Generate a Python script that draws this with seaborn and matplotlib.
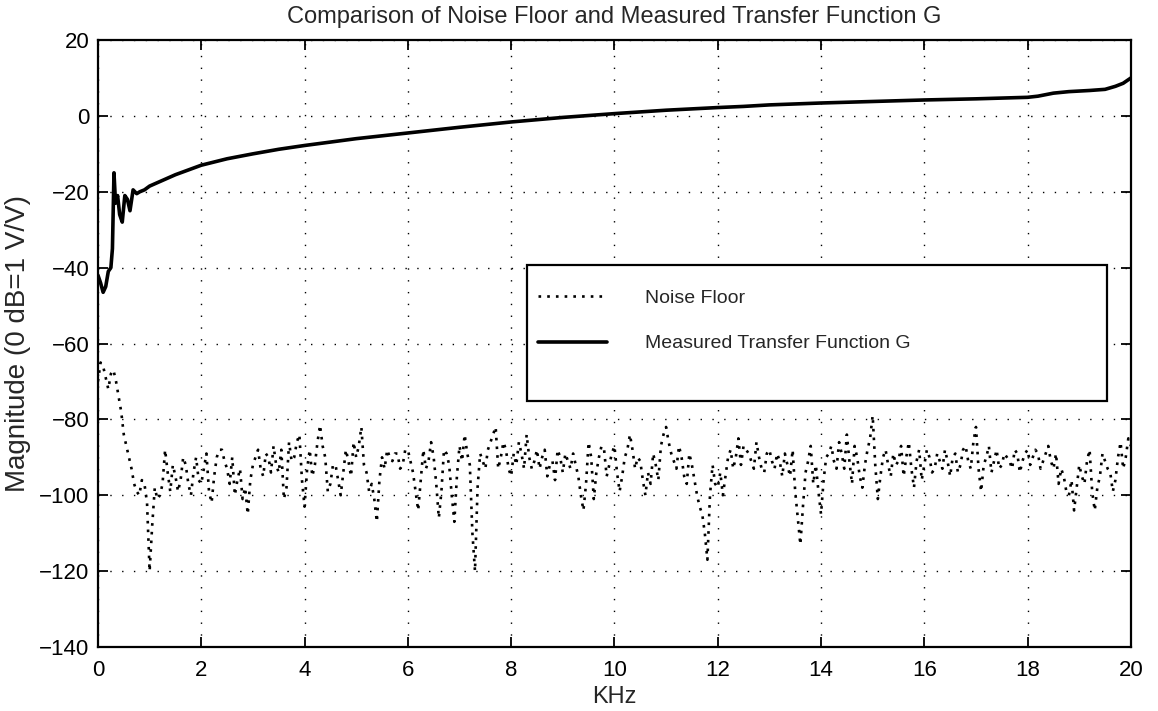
import numpy as np
import pandas as pd
import matplotlib
matplotlib.use("Agg")
import matplotlib.pyplot as plt
import seaborn as sns
from matplotlib.patches import Rectangle
from matplotlib.lines import Line2D

# ---------------- data ----------------
title = "Comparison of Noise Floor and Measured Transfer Function G"
x_label = "KHz"
y_label = "Magnitude (0 dB=1 V/V)"
noise_label = "Noise Floor"
tf_label = "Measured Transfer Function G"

x_ticks = [0, 2, 4, 6, 8, 10, 12, 14, 16, 18, 20]
y_ticks = [-140, -120, -100, -80, -60, -40, -20, 0, 20]

# noise floor, read every 0.1 kHz from 0 to 20 kHz (dB)
noise_step_khz = 0.1
noise_db = [
    -70, -66, -72, -67, -74, -84, -90, -97, -100, -97,       # 0.0 - 0.9
    -120, -98, -100, -88, -99, -95, -96, -92, -100, -90,     # 1.0 - 1.9
    -97, -89, -102, -90, -88, -93, -90, -96, -101, -105,     # 2.0 - 2.9
    -92, -88, -95, -90, -87, -94, -101, -86, -90, -84,       # 3.0 - 3.9
    -103, -88, -92, -81.5, -90, -97, -92, -100, -88, -95,    # 4.0 - 4.9
    -90, -82, -94, -97, -107, -90, -88, -91, -89, -92,       # 5.0 - 5.9
    -88, -94, -104, -88, -91, -90, -106, -88, -92, -107,     # 6.0 - 6.9
    -87, -84, -92, -120, -89, -93, -86, -82, -90, -88,       # 7.0 - 7.9
    -95, -92, -89, -84, -93, -88, -90, -95, -91, -88,        # 8.0 - 8.9
    -94, -91, -89, -95, -104, -86, -101, -90, -88, -92,      # 9.0 - 9.9
    -87, -99, -90, -84, -93, -91, -100, -97, -92, -87,       # 10.0 - 10.9
    -82, -89, -93, -90, -97, -92, -100, -105, -117, -92,     # 11.0 - 11.9
    -98, -100, -90, -93, -85, -87, -89, -93, -90, -94,       # 12.0 - 12.9
    -88, -93, -91, -89, -95, -99, -113, -94, -87, -92,       # 13.0 - 13.9
    -105, -90, -87, -93, -89, -84, -97, -90, -98, -88,       # 14.0 - 14.9
    -79, -101, -90, -92, -89, -91, -95, -86, -98, -88,       # 15.0 - 15.9
    -92, -90, -93, -91, -88, -95, -89, -92, -87, -93,        # 16.0 - 16.9
    -82, -99, -90, -94, -88, -92, -90, -93, -89, -91,        # 17.0 - 17.9
    -88, -90, -89, -91, -87, -93, -97, -95, -100, -104,      # 18.0 - 18.9
    -92, -97, -88, -104, -95, -91, -94, -96, -86, -90,       # 19.0 - 19.9
    -87,                                                     # 20.0
]
# noise floor readings in between, at 0.05, 0.15, ... 19.95 kHz (dB)
noise_half_db = [
    -65, -69, -68, -70, -78, -87, -93, -99, -96, -102,       # 0.05 - 0.95
    -108, -101, -97, -94, -92, -99, -90, -97, -94, -96,      # 1.05 - 1.95
    -93, -99, -95, -88, -91, -97, -100, -93, -98, -96,       # 2.05 - 2.95
    -90, -93, -89, -94, -92, -88, -98, -91, -86, -96,        # 3.05 - 3.95
    -93, -95, -86, -87, -99, -92, -96, -94, -91, -86,        # 4.05 - 4.95
    -87, -92, -99, -101, -96, -93, -90, -89, -93, -88,       # 5.05 - 5.95
    -91, -99, -96, -93, -86, -97, -99, -89, -100, -95,       # 6.05 - 6.95
    -91, -89, -110, -98, -91, -88, -84, -93, -86, -93,       # 7.05 - 7.95
    -89, -86, -93, -90, -91, -93, -88, -92, -96, -90,        # 8.05 - 8.95
    -89, -93, -92, -100, -97, -90, -94, -87, -95, -89,       # 9.05 - 9.95
    -94, -95, -88, -88, -90, -96, -94, -89, -96, -84,        # 10.05 - 10.95
    -86, -91, -87, -95, -89, -96, -103, -110, -100, -97,     # 11.05 - 11.95
    -94, -95, -88, -90, -92, -88, -91, -86, -93, -89,        # 12.05 - 12.95
    -91, -89, -95, -92, -88, -106, -103, -91, -97, -99,      # 13.05 - 13.95
    -96, -89, -91, -86, -93, -91, -87, -95, -92, -85,        # 14.05 - 14.95
    -92, -95, -88, -95, -92, -87, -90, -93, -91, -96,        # 15.05 - 15.95
    -88, -94, -89, -93, -91, -90, -94, -88, -91, -86,        # 16.05 - 16.95
    -93, -92, -87, -91, -93, -89, -91, -88, -94, -89,        # 17.05 - 17.95
    -92, -88, -93, -89, -91, -89, -93, -99, -96, -98,        # 18.05 - 18.95
    -95, -91, -99, -98, -89, -93, -99, -90, -93, -85,        # 19.05 - 19.95
]

# measured transfer function G
tf_khz = [0, 0.05, 0.1, 0.15, 0.2, 0.25, 0.28, 0.31, 0.34, 0.38, 0.42,
          0.47, 0.52, 0.57, 0.62, 0.68, 0.75, 0.81, 0.9, 1.0, 1.25, 1.5,
          2, 2.5, 3, 3.5, 4, 5, 6, 7, 8, 9, 10, 11, 12, 12.5, 13, 14, 15,
          16, 17, 18, 18.2, 18.5, 18.8, 19.2, 19.5, 19.7, 19.85, 20]
tf_db = [-42, -44, -46.5, -45, -41, -40, -35, -15, -23, -21, -26,
         -28, -21, -22, -25, -19.5, -20.5, -20, -19.5, -18.5, -17, -15.5,
         -13, -11.3, -10, -8.8, -7.8, -6, -4.5, -3, -1.6, -0.4, 0.6, 1.5, 2.2, 2.5,
         2.9, 3.4, 3.8, 4.2, 4.5, 4.9, 5.2, 6, 6.4, 6.7, 7, 7.8, 8.6, 10]

noise_df = pd.concat([
    pd.DataFrame({"khz": np.arange(len(noise_db)) * noise_step_khz,
                  "db": noise_db}),
    pd.DataFrame({"khz": (np.arange(len(noise_half_db)) + 0.5) * noise_step_khz,
                  "db": noise_half_db}),
]).sort_values("khz").reset_index(drop=True)
tf_df = pd.DataFrame({"khz": tf_khz, "db": tf_db})

# ---------------- style ----------------
sns.set_style("ticks")
plt.rcParams["font.family"] = ["Liberation Sans", "DejaVu Sans"]

fig = plt.figure(figsize=(11.58, 7.11), dpi=100)
ax = fig.add_axes([0.0846, 0.09, 0.892, 0.8537])

noise_ls = (0, (1, 2.3))
sns.lineplot(data=noise_df, x="khz", y="db", ax=ax, color="black",
             linewidth=1.9, linestyle=noise_ls, sort=False, estimator=None,
             zorder=3)
sns.lineplot(data=tf_df, x="khz", y="db", ax=ax, color="black",
             linewidth=2.6, sort=False, estimator=None, zorder=3)

ax.set_xlim(0, 20)
ax.set_ylim(-140, 20)
ax.set_xticks(x_ticks)
ax.set_yticks(y_ticks)

ax.grid(True, color="black", linestyle=(0, (1, 7.5)), linewidth=1.0)
ax.set_axisbelow(True)

ax.tick_params(direction="in", length=7, width=1.3, top=True, right=True,
               labelsize=16, colors="black")
ax.tick_params(axis="x", pad=9)
ax.tick_params(axis="y", pad=6)
for sp in ax.spines.values():
    sp.set_visible(True)
    sp.set_linewidth(1.6)
    sp.set_color("black")

ax.set_xlabel(x_label, fontsize=17, labelpad=4)
ax.set_ylabel(y_label, fontsize=20, labelpad=6)
ax.set_title(title, fontsize=17, pad=12)

# legend box
ax.add_patch(Rectangle((0.415, 0.405), 0.562, 0.224, transform=ax.transAxes,
                       facecolor="white", edgecolor="black", linewidth=1.6,
                       zorder=4))
handles = [
    Line2D([], [], color="black", linewidth=1.9, linestyle=noise_ls),
    Line2D([], [], color="black", linewidth=2.6),
]
leg = ax.legend(handles, [noise_label, tf_label], loc="upper left",
                bbox_to_anchor=(0.426, 0.590), frameon=False, fontsize=14,
                handlelength=3.55, handletextpad=1.95, labelspacing=1.45,
                borderpad=0, borderaxespad=0)
leg.set_zorder(5)

fig.savefig("out.png", dpi=100)
